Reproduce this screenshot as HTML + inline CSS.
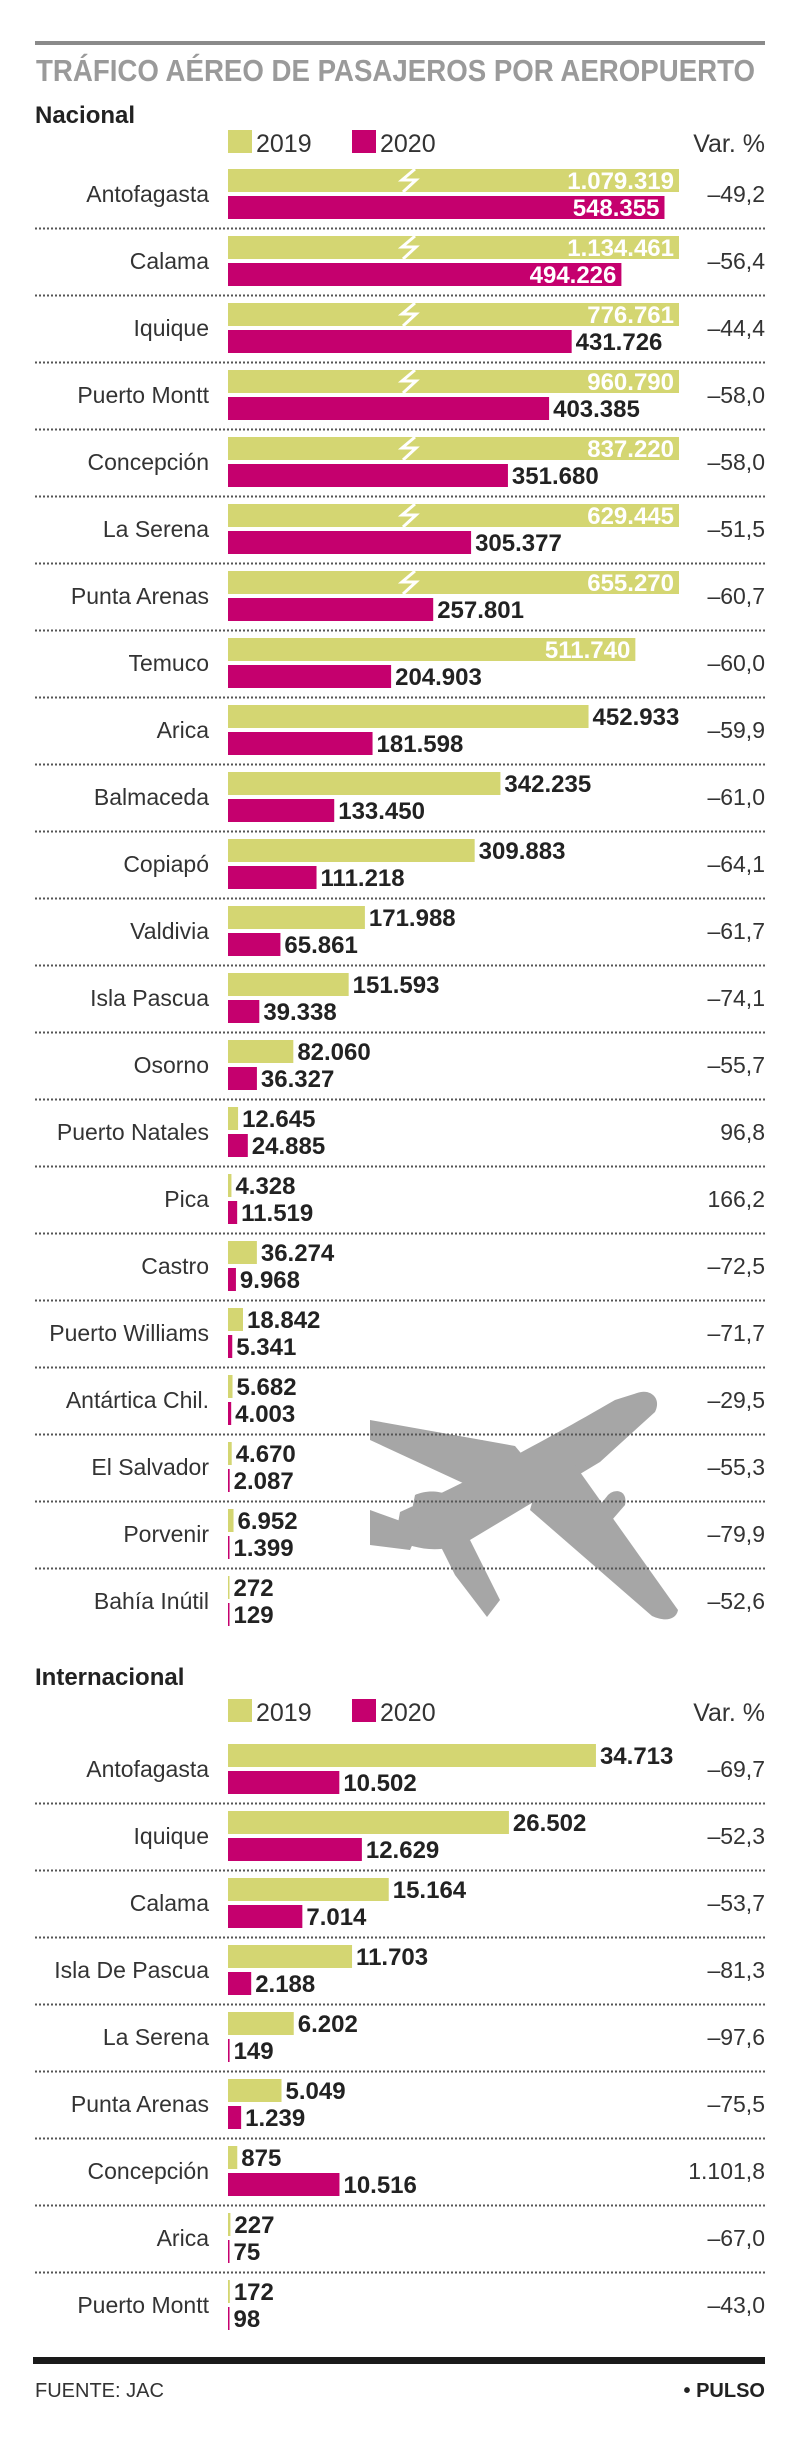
<!DOCTYPE html>
<html><head><meta charset="utf-8">
<style>
html,body{margin:0;padding:0;background:#fff;}
svg{display:block;font-family:"Liberation Sans",sans-serif;}
</style></head>
<body>
<svg id="chart" width="800" height="2437" viewBox="0 0 800 2437" xmlns="http://www.w3.org/2000/svg">
  <rect x="35" y="41" width="730" height="4" fill="#8a8a8a"/>
  <text x="36" y="81" font-size="31" font-weight="bold" fill="#9a9a9a" textLength="719" lengthAdjust="spacingAndGlyphs">TRÁFICO AÉREO DE PASAJEROS POR AEROPUERTO</text>
  <text x="35" y="123" font-size="24" font-weight="bold" fill="#222">Nacional</text>
  <g>
    <rect x="228" y="130" width="24" height="23" fill="#d4d672"/>
    <text x="256" y="152" font-size="25" fill="#333">2019</text>
    <rect x="352" y="130" width="24" height="23" fill="#c5006e"/>
    <text x="380" y="152" font-size="25" fill="#333">2020</text>
    <text x="765" y="152" font-size="25" fill="#333" text-anchor="end">Var. %</text>
  </g>
  <g fill="#a6a6a6">
    <path d="M637,1393 C650,1388 662,1398 655,1412 L600,1462 L470,1540 C440,1556 415,1548 395,1540 L400,1512 C450,1490 520,1455 615,1400 Z"/>
    <path d="M370,1420 L515,1446 L535,1470 L478,1490 L370,1440 Z"/>
    <path d="M575,1465 L678,1610 C676,1620 665,1622 652,1616 L530,1510 L540,1475 Z"/>
    <path d="M608,1495 C615,1488 628,1490 625,1505 L612,1520 L596,1510 Z"/>
    <path d="M470,1445 C478,1436 492,1440 495,1452 L480,1465 Z"/>
    <path d="M415,1495 C430,1488 450,1492 458,1502 L440,1530 L410,1520 Z"/>
    <path d="M370,1510 L420,1528 L410,1550 L370,1545 Z"/>
    <path d="M440,1545 L470,1540 L500,1600 L487,1617 L455,1575 Z"/>
  </g>
  <g id="nac"></g>
  <text x="35" y="1685" font-size="24" font-weight="bold" fill="#222">Internacional</text>
  <g>
    <rect x="228" y="1699" width="24" height="23" fill="#d4d672"/>
    <text x="256" y="1721" font-size="25" fill="#333">2019</text>
    <rect x="352" y="1699" width="24" height="23" fill="#c5006e"/>
    <text x="380" y="1721" font-size="25" fill="#333">2020</text>
    <text x="765" y="1721" font-size="25" fill="#333" text-anchor="end">Var. %</text>
  </g>
  <g id="intl"></g>
  <rect x="33" y="2357" width="732" height="7" fill="#1a1a1a"/>
  <text x="35" y="2397" font-size="20" fill="#333">FUENTE: JAC</text>
  <text x="765" y="2397" font-size="20" font-weight="bold" fill="#222" text-anchor="end">• PULSO</text>
</svg>
<script>
const nacCategories = ["Antofagasta","Calama","Iquique","Puerto Montt","Concepción","La Serena","Punta Arenas","Temuco","Arica","Balmaceda","Copiapó","Valdivia","Isla Pascua","Osorno","Puerto Natales","Pica","Castro","Puerto Williams","Antártica Chil.","El Salvador","Porvenir","Bahía Inútil"];
const nac2019 = [1079319,1134461,776761,960790,837220,629445,655270,511740,452933,342235,309883,171988,151593,82060,12645,4328,36274,18842,5682,4670,6952,272];
const nac2020 = [548355,494226,431726,403385,351680,305377,257801,204903,181598,133450,111218,65861,39338,36327,24885,11519,9968,5341,4003,2087,1399,129];
const nacVar = ["–49,2","–56,4","–44,4","–58,0","–58,0","–51,5","–60,7","–60,0","–59,9","–61,0","–64,1","–61,7","–74,1","–55,7","96,8","166,2","–72,5","–71,7","–29,5","–55,3","–79,9","–52,6"];

const intlCategories = ["Antofagasta","Iquique","Calama","Isla De Pascua","La Serena","Punta Arenas","Concepción","Arica","Puerto Montt"];
const intl2019 = [34713,26502,15164,11703,6202,5049,875,227,172];
const intl2020 = [10502,12629,7014,2188,149,1239,10516,75,98];
const intlVar = ["–69,7","–52,3","–53,7","–81,3","–97,6","–75,5","1.101,8","–67,0","–43,0"];

const NS = "http://www.w3.org/2000/svg";
const X0 = 228, CAP = 451;
function fmt(v){return v.toString().replace(/\B(?=(\d{3})+(?!\d))/g,".");}
function mk(tag, attrs, parent){const e=document.createElementNS(NS,tag);for(const k in attrs)e.setAttribute(k,attrs[k]);parent.appendChild(e);return e;}

function drawSection(g, cats, s19, s20, vars, top0, scale, insideMin){
  const pitch = 67;
  cats.forEach((c,i)=>{
    const t = top0 + pitch*i;
    const lab = mk("text",{x:209,y:t+33,"font-size":23,fill:"#333","text-anchor":"end"},g);
    
    
    lab.textContent = c;
    const vr = mk("text",{x:765,y:t+33,"font-size":23,fill:"#333","text-anchor":"end"},g);
    
    
    vr.textContent = vars[i];
    [[s19[i],"#d4d672",t],[s20[i],"#c5006e",t+27]].forEach(([v,col,y],j)=>{
      const raw = v*scale;
      const broken = raw > CAP;
      const w = Math.max(broken ? CAP : raw, 1.5);
      const bar = mk("rect",{x:X0,y:y,width:w,height:23,fill:col},g);
      
      
      if(broken){
        const z = mk("polyline",{points:`${X0+187},${y} ${X0+174},${y+11} ${X0+188},${y+11} ${X0+175},${y+23}`,fill:"none",stroke:"#fff","stroke-width":3},g);
        
        
      }
      const inside = v >= insideMin;
      const tx = mk("text",{x: inside ? X0+w-5 : X0+w+4, y:y+20,"font-size":24,"font-weight":"bold",fill: inside ? "#fff" : "#222","text-anchor": inside ? "end" : "start"},g);
      
      
      tx.textContent = fmt(v);
    });
    if(i < cats.length-1){
      const ln = mk("line",{x1:35,x2:765,y1:t+59.5,y2:t+59.5,stroke:"#555","stroke-width":2,"stroke-dasharray":"2,2"},g);
      
      
    }
  });
}
drawSection(document.getElementById("nac"), nacCategories, nac2019, nac2020, nacVar, 169, 0.000796, 480000);
drawSection(document.getElementById("intl"), intlCategories, intl2019, intl2020, intlVar, 1744, 0.0106, 1e9);
</script>
</body></html>
